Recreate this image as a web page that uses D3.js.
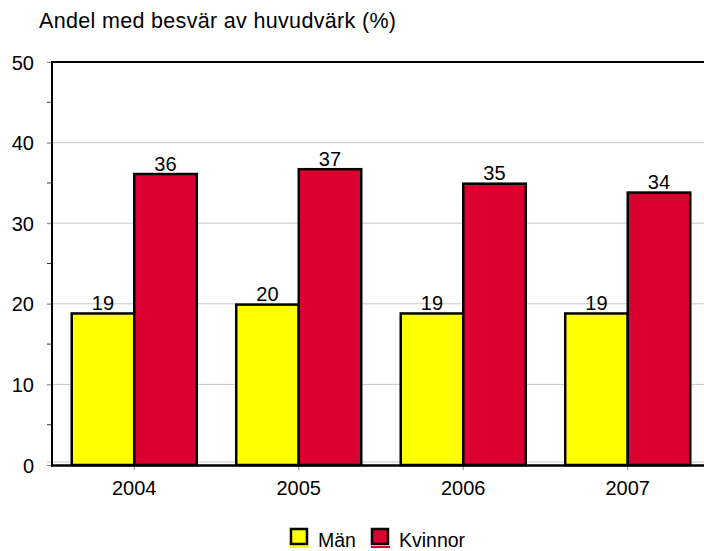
<!DOCTYPE html>
<html>
<head>
<meta charset="utf-8">
<script src="https://cdn.jsdelivr.net/npm/d3@7"></script>
<style>
  body { margin: 0; background: #fff; }
  svg { font-family: "Liberation Sans", Arial, sans-serif; }
</style>
</head>
<body>
<svg id="chart" width="704" height="551"></svg>
<script>
// data
var years = ["2004", "2005", "2006", "2007"];
var seriesNames = ["Män", "Kvinnor"];
var man = [18.8, 19.9, 18.8, 18.8];
var kvinnor = [36.1, 36.7, 34.9, 33.8];
var yTicks = [0, 10, 20, 30, 40, 50];
var colors = ["#ffff00", "#da0030"];

var svg = d3.select("#chart"),
    margin = { top: 62, right: -6, bottom: 86, left: 52 },
    width = +svg.attr("width") - margin.left - margin.right,
    height = +svg.attr("height") - margin.top - margin.bottom;

var x = d3.scaleBand().domain(years).range([0, width]).paddingInner(0.24).paddingOuter(0.12);
var x1 = d3.scaleBand().domain(seriesNames).range([0, x.bandwidth()]);
var y = d3.scaleLinear().domain([0, 50]).range([height, 0]);

var g = svg.append("g")
  .attr("transform", "translate(" + margin.left + "," + margin.top + ")");

// title
svg.append("text")
  .attr("x", 39).attr("y", 28)
  .attr("font-size", 21.5)
  .attr("textLength", 357)
  .text("Andel med besvär av huvudvärk (%)");

// gridlines
g.append("g")
  .selectAll("line")
  .data(yTicks)
  .enter().append("line")
  .attr("x1", -5).attr("x2", width)
  .attr("y1", function(d) { return y(d) - (d === 0 ? 3 : 0); })
  .attr("y2", function(d) { return y(d) - (d === 0 ? 3 : 0); })
  .attr("stroke", "#c8c8c8").attr("stroke-width", 1);

// y axis
var yAxis = g.append("g")
  .call(d3.axisLeft(y).tickValues(yTicks).tickSize(5).tickPadding(13));
yAxis.select(".domain").remove();
yAxis.selectAll(".tick line").attr("stroke", "#888");
yAxis.selectAll(".tick text")
  .attr("font-size", 20)
  .attr("font-family", "Liberation Sans, Arial, sans-serif")
  .attr("fill", "#000")
  .attr("dy", "0.35em");

// minor ticks
g.append("g")
  .selectAll("line")
  .data(d3.range(5, 50, 10))
  .enter().append("line")
  .attr("x1", -5).attr("x2", 0)
  .attr("y1", function(d) { return y(d); })
  .attr("y2", function(d) { return y(d); })
  .attr("stroke", "#333").attr("stroke-width", 1);

// x axis
var xAxis = g.append("g")
  .attr("transform", "translate(0," + height + ")")
  .call(d3.axisBottom(x).tickSize(5).tickPadding(11));
xAxis.select(".domain").remove();
xAxis.selectAll(".tick line").attr("stroke", "#888");
xAxis.selectAll(".tick text")
  .attr("font-size", 20)
  .attr("font-family", "Liberation Sans, Arial, sans-serif")
  .attr("fill", "#000");

// bars
var rows = years.map(function(yr, i) {
  return { year: yr, values: [man[i], kvinnor[i]] };
});

var groups = g.selectAll(".grp")
  .data(rows)
  .enter().append("g")
  .attr("class", "grp")
  .attr("transform", function(d) { return "translate(" + x(d.year) + ",0)"; });

groups.selectAll("rect")
  .data(function(d) { return d.values.map(function(v, j) { return { name: seriesNames[j], value: v, j: j }; }); })
  .enter().append("rect")
  .attr("x", function(d) { return x1(d.name); })
  .attr("y", function(d) { return y(d.value); })
  .attr("width", x1.bandwidth())
  .attr("height", function(d) { return height - y(d.value); })
  .attr("fill", function(d) { return colors[d.j]; })
  .attr("stroke", "#000")
  .attr("stroke-width", 2.5);

groups.selectAll(".lbl")
  .data(function(d) { return d.values.map(function(v, j) { return { name: seriesNames[j], value: v }; }); })
  .enter().append("text")
  .attr("class", "lbl")
  .attr("x", function(d) { return x1(d.name) + x1.bandwidth() / 2; })
  .attr("y", function(d) { return y(d.value) - 3.5; })
  .attr("text-anchor", "middle")
  .attr("font-size", 20)
  .text(function(d) { return Math.round(d.value); });

// frame lines
g.append("line")
  .attr("x1", 0).attr("x2", width).attr("y1", 0).attr("y2", 0)
  .attr("stroke", "#000").attr("stroke-width", 2);
g.append("line")
  .attr("x1", 0).attr("x2", 0).attr("y1", -1).attr("y2", height + 1.5)
  .attr("stroke", "#000").attr("stroke-width", 2);
g.append("line")
  .attr("x1", -1).attr("x2", width).attr("y1", height + 0.5).attr("y2", height + 0.5)
  .attr("stroke", "#000").attr("stroke-width", 2.5);

// legend
var legendX = [291, 372];
var legend = svg.append("g")
  .selectAll("g")
  .data(seriesNames)
  .enter().append("g")
  .attr("transform", function(d, i) { return "translate(" + legendX[i] + ",529)"; });

legend.append("line")
  .attr("x1", -1).attr("x2", 18).attr("y1", 18).attr("y2", 18)
  .attr("stroke", function(d, i) { return colors[i]; })
  .attr("stroke-width", 2);
legend.append("rect")
  .attr("width", 16).attr("height", 15)
  .attr("fill", function(d, i) { return colors[i]; })
  .attr("stroke", "#000")
  .attr("stroke-width", 2.5);
legend.append("text")
  .attr("x", 27).attr("y", 17.5)
  .attr("font-size", 19.5)
  .text(function(d) { return d; });
</script>
</body>
</html>
